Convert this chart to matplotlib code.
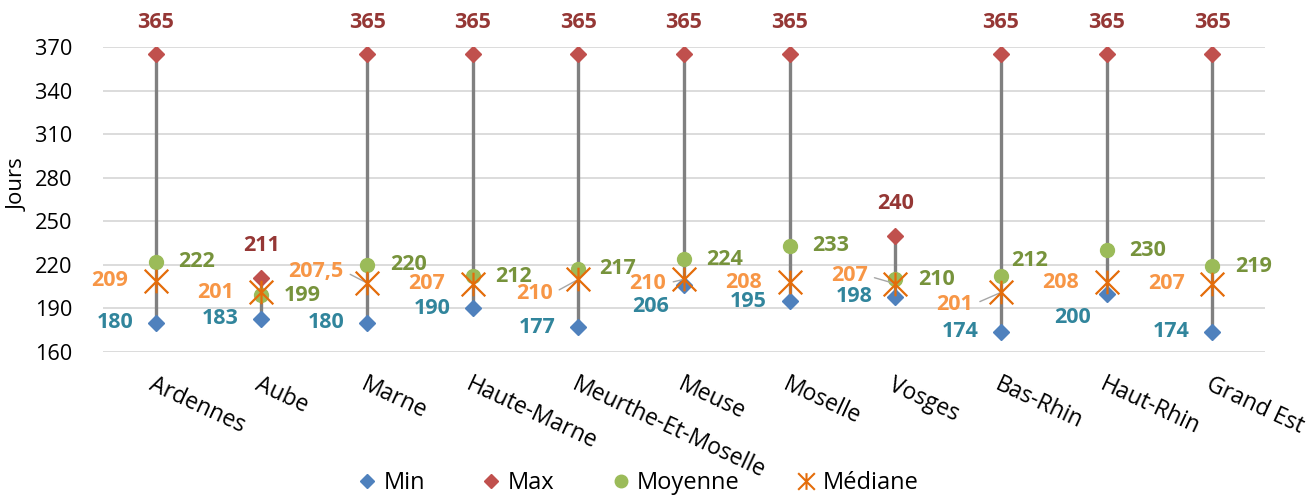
import numpy as np
import matplotlib.pyplot as plt
from matplotlib.path import Path
from matplotlib.lines import Line2D

plt.rcParams['font.family'] = ['Open Sans', 'DejaVu Sans']

regions = ['Ardennes', 'Aube', 'Marne', 'Haute-Marne', 'Meurthe-Et-Moselle',
           'Meuse', 'Moselle', 'Vosges', 'Bas-Rhin', 'Haut-Rhin', 'Grand Est']
min_vals = [180, 183, 180, 190, 177, 206, 195, 198, 174, 200, 174]
max_vals = [365, 211, 365, 365, 365, 365, 365, 240, 365, 365, 365]
mean_vals = [222, 199, 220, 212, 217, 224, 233, 210, 212, 230, 219]
median_vals = [209, 201, 207.5, 207, 210, 210, 208, 207, 201, 208, 207]
y_ticks = [160, 190, 220, 250, 280, 310, 340, 370]

# label offsets in pixels (dx, dy), dy upwards
min_off = [(-41, 0)] * 11
min_off[5] = (-33, -21)
min_off[9] = (-34, -24)
mean_off = [(41, 0)] * 11
mean_off[4] = (39, 1)
mean_off[8] = (29, 16)
med_off = [(-46, 0)] * 11
med_off[2] = (-51, 12)
med_off[4] = (-44, -14)
med_off[5] = (-36, -4)
med_off[7] = (-46, 8)
med_off[8] = (-46, -12)
leader = [2, 4, 5, 7, 8]

c_min, c_min_txt = '#4F81BD', '#31859C'
c_max, c_max_txt = '#C0504D', '#953735'
c_mean, c_mean_txt = '#9BBB59', '#77933C'
c_med, c_med_txt = '#E46C0A', '#F79646'

star = Path([(-1, -1), (1, 1), (-1, 1), (1, -1), (0, -1), (0, 1)],
            [Path.MOVETO, Path.LINETO, Path.MOVETO, Path.LINETO, Path.MOVETO, Path.LINETO])


def fmt(v):
    if float(v).is_integer():
        return str(int(v))
    return str(v).replace('.', ',')


fig = plt.figure(figsize=(13.13, 4.95), dpi=100)
ax = fig.add_axes([103 / 1313, 143 / 495, 1162 / 1313, 305 / 495])
x = np.arange(len(regions))

ax.vlines(x, min_vals, max_vals, color='#808080', lw=2.4, zorder=2)
ax.plot(x, min_vals, 'D', color=c_min, ms=8, ls='none', zorder=3)
ax.plot(x, max_vals, 'D', color=c_max, ms=8, ls='none', zorder=3)
ax.plot(x, mean_vals, 'o', color=c_mean, ms=10, ls='none', zorder=3)
ax.plot(x, median_vals, marker=star, color=c_med, ms=17, mew=1.6, ls='none', zorder=4)

lbl = dict(textcoords='offset pixels', ha='center', va='center',
           fontsize=15.5, fontweight='bold', annotation_clip=False)
for i in range(len(regions)):
    ax.annotate(fmt(min_vals[i]), (x[i], min_vals[i]), xytext=min_off[i], color=c_min_txt, **lbl)
    ax.annotate(fmt(max_vals[i]), (x[i], max_vals[i]), xytext=(0, 32), color=c_max_txt, **lbl)
    ax.annotate(fmt(mean_vals[i]), (x[i], mean_vals[i]), xytext=mean_off[i], color=c_mean_txt, **lbl)
    if i in leader:
        ax.annotate(fmt(median_vals[i]), (x[i], median_vals[i]), xytext=med_off[i], color=c_med_txt,
                    arrowprops=dict(arrowstyle='-', color='#A6A6A6', lw=1, relpos=(1, 0.5),
                                    shrinkA=3, shrinkB=1), **lbl)
    else:
        ax.annotate(fmt(median_vals[i]), (x[i], median_vals[i]), xytext=med_off[i], color=c_med_txt, **lbl)

ax.set_xlim(-0.5, 10.5)
ax.set_ylim(160, 370)
ax.set_yticks(y_ticks)
ax.set_xticks(x)
ax.set_xticklabels(regions, rotation=-25, ha='left', va='top', rotation_mode='anchor', fontsize=16.5)
ax.tick_params(axis='y', length=0, pad=22, labelsize=15.7)
ax.tick_params(axis='x', length=0, pad=15)
ax.yaxis.grid(True, color='#D9D9D9', lw=1.3)
ax.set_axisbelow(True)
for s in ax.spines.values():
    s.set_visible(False)

fig.text(18 / 1313, 1 - 185 / 495, 'Jours', rotation=90, ha='center', va='center', fontsize=16)

handles = [
    Line2D([], [], marker='D', color=c_min, ms=7, ls='none'),
    Line2D([], [], marker='D', color=c_max, ms=7, ls='none'),
    Line2D([], [], marker='o', color=c_mean, ms=9, ls='none'),
    Line2D([], [], marker=star, color=c_med, ms=12, mew=1.5, ls='none'),
]
fig.legend(handles, ['Min', 'Max', 'Moyenne', 'Médiane'], loc='center',
           bbox_to_anchor=(638 / 1313, 1 - 483 / 495), ncol=4, frameon=False,
           fontsize=17, handlelength=0.8, handletextpad=0.3, columnspacing=2.4)

fig.savefig('out.png', dpi=100)
